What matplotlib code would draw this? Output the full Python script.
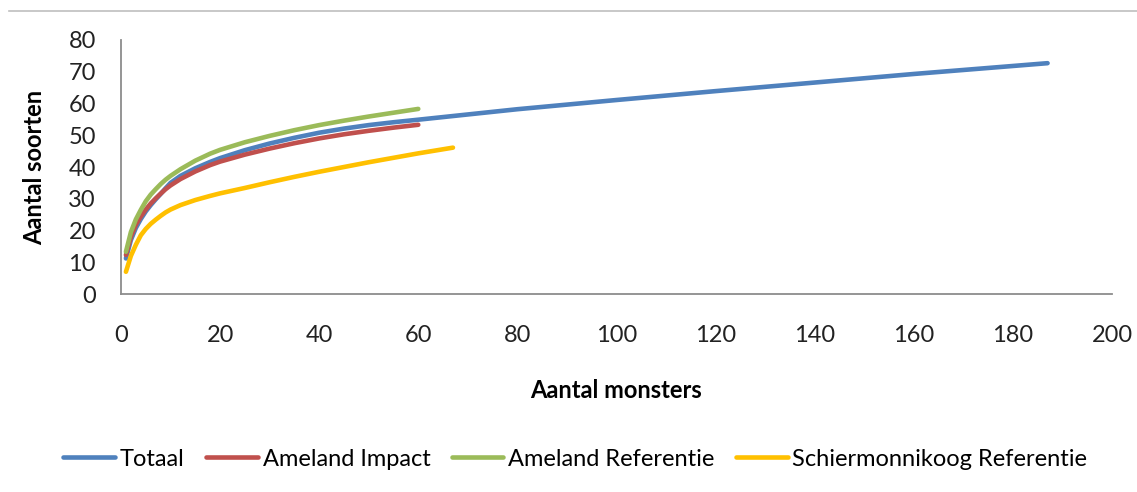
import matplotlib
matplotlib.use("Agg")
import matplotlib.pyplot as plt
from matplotlib.lines import Line2D

plt.rcParams['font.family'] = ['Lato', 'DejaVu Sans']

# Soortenaccumulatie: aantal soorten tegen aantal monsters
totaal_x = [1, 2, 3, 4, 5, 6, 7, 8, 9, 10, 12, 15, 18, 20, 25, 30, 35, 40, 45, 50, 55, 60,
            80, 100, 120, 140, 160, 187]
totaal_y = [11.2, 17.0, 20.8, 23.6, 26.0, 28.0, 29.8, 31.5, 33.3, 35.0, 37.2, 39.6, 41.6, 42.8,
            45.3, 47.4, 49.2, 50.8, 52.1, 53.2, 54.1, 54.9,
            58.2, 61.1, 63.9, 66.6, 69.3, 72.7]

impact_x = [1, 2, 3, 4, 5, 6, 7, 8, 9, 10, 12, 15, 18, 20, 25, 30, 35, 40, 45, 50, 55, 60]
impact_y = [12.3, 18.0, 21.8, 24.4, 26.6, 28.5, 30.1, 31.6, 33.0, 34.2, 36.2, 38.6, 40.6, 41.7,
            43.9, 45.8, 47.5, 49.0, 50.3, 51.4, 52.4, 53.3]

ref_x = [1, 2, 3, 4, 5, 6, 7, 8, 9, 10, 12, 15, 18, 20, 25, 30, 35, 40, 45, 50, 55, 60]
ref_y = [13.3, 19.5, 23.5, 26.5, 29.2, 31.3, 33.0, 34.6, 36.0, 37.2, 39.3, 42.0, 44.2, 45.4,
         47.8, 49.8, 51.6, 53.2, 54.6, 55.9, 57.1, 58.3]

schier_x = [1, 2, 3, 4, 5, 6, 7, 8, 9, 10, 12, 15, 18, 20, 25, 30, 35, 40, 45, 50, 55, 60, 67]
schier_y = [7.0, 12.0, 15.5, 18.5, 20.5, 22.1, 23.4, 24.6, 25.7, 26.6, 28.0, 29.6, 30.9, 31.7,
            33.4, 35.2, 36.9, 38.5, 40.0, 41.5, 42.9, 44.3, 46.1]

series = [
    ("Totaal", totaal_x, totaal_y, "#4F81BD"),
    ("Ameland Impact", impact_x, impact_y, "#C0504D"),
    ("Ameland Referentie", ref_x, ref_y, "#9BBB59"),
    ("Schiermonnikoog Referentie", schier_x, schier_y, "#FFC000"),
]

fig = plt.figure(figsize=(11.37, 4.92), dpi=100)
ax = fig.add_axes([0.1064, 0.4024, 0.8716, 0.5163])

for name, xs, ys, col in series:
    ax.plot(xs, ys, color=col, lw=3.3, label=name,
            solid_capstyle="round", solid_joinstyle="round")

ax.set_xlim(0, 200)
ax.set_ylim(0, 80)
ax.set_xticks(range(0, 201, 20))
ax.set_yticks(range(0, 81, 10))
ax.tick_params(length=0, labelsize=17, colors="#222222")
ax.tick_params(axis="y", pad=18)
ax.tick_params(axis="x", pad=22)

for side in ("top", "right"):
    ax.spines[side].set_visible(False)
for side in ("left", "bottom"):
    ax.spines[side].set_color("#8C8C8C")
    ax.spines[side].set_linewidth(1.3)

ax.set_xlabel("Aantal monsters", fontsize=17, fontweight="bold", labelpad=24)
ax.set_ylabel("Aantal soorten", fontsize=17, fontweight="bold", labelpad=16)

# dunne grijze lijn bovenaan de grafiek
fig.add_artist(Line2D([0.008, 1.0], [1 - 11 / 492, 1 - 11 / 492],
                      transform=fig.transFigure, color="#BFBFBF", lw=1.2))

fig.legend(loc="center", bbox_to_anchor=(0.506, 0.067), ncol=4, frameon=False,
           fontsize=17, handlelength=2.2, handletextpad=0.2, columnspacing=0.9)

fig.savefig("out.png", dpi=100)
